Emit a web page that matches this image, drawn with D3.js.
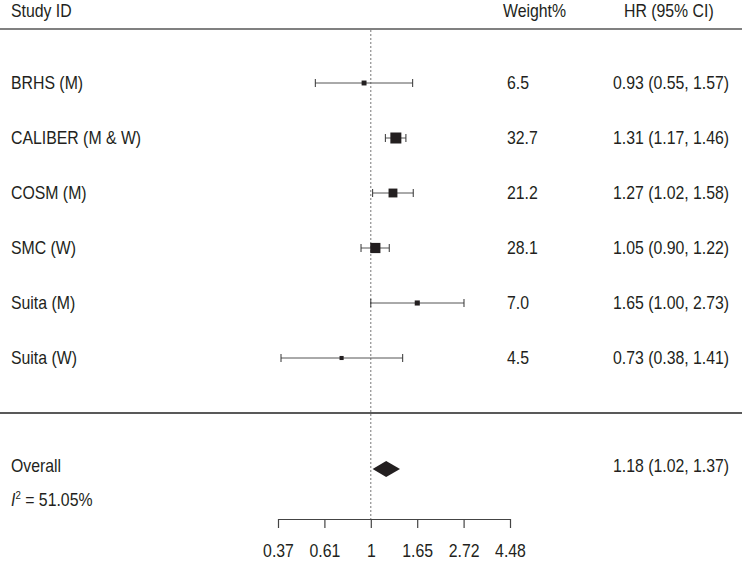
<!DOCTYPE html>
<html>
<head>
<meta charset="utf-8">
<script src="https://cdn.jsdelivr.net/npm/d3@7"></script>
<style>
  html, body { margin: 0; padding: 0; background: #fff; }
  text { font-family: "Liberation Sans", Arial, sans-serif; fill: #231f20; }
</style>
</head>
<body>
<svg id="chart" width="742" height="563"></svg>
<script>
// ---- data ----
const studies = ["BRHS (M)", "CALIBER (M & W)", "COSM (M)", "SMC (W)", "Suita (M)", "Suita (W)"];
const hr      = [0.93, 1.31, 1.27, 1.05, 1.65, 0.73];
const lower   = [0.55, 1.17, 1.02, 0.90, 1.00, 0.38];
const upper   = [1.57, 1.46, 1.58, 1.22, 2.73, 1.41];
const weights = [6.5, 32.7, 21.2, 28.1, 7.0, 4.5];
const overall = {hr: 1.18, lower: 1.02, upper: 1.37};
const i2Value = "51.05%";
const tickValues = [Math.exp(-1), Math.exp(-0.5), 1, Math.exp(0.5), Math.exp(1), Math.exp(1.5)];
const tickLabels = ["0.37", "0.61", "1", "1.65", "2.72", "4.48"];
const headers = ["Study ID", "Weight%", "HR (95% CI)"];

// ---- layout ----
const svg = d3.select("#chart");
const x = d3.scaleLog().domain([Math.exp(-1), Math.exp(1.5)]).range([278, 510]);
const y = d3.scaleLinear().domain([0, 5]).range([83, 358]);
const size = d3.scaleSqrt().domain([0, 32.7]).range([0, 11]);
const overallY = 469, axisY = 519;
const FS = 18, SX = 0.88;
const ink = "#231f20";

function label(txt, tx, ty, anchor) {
  return svg.append("text")
    .attr("transform", `translate(${tx},${ty + 6}) scale(${SX},1)`)
    .attr("font-size", FS)
    .attr("text-anchor", anchor || "start")
    .text(txt);
}

// header
label(headers[0], 11, 11);
label(headers[1], 503, 11);
label(headers[2], 624, 11);
svg.append("line").attr("x1", 0).attr("x2", 742).attr("y1", 29).attr("y2", 29)
  .attr("stroke", "#808080").attr("stroke-width", 2);

// reference dotted line
svg.append("line").attr("x1", x(1)).attr("x2", x(1)).attr("y1", 30).attr("y2", axisY)
  .attr("stroke", "#777").attr("stroke-width", 1).attr("stroke-dasharray", "2,2");

// separator
svg.append("line").attr("x1", 0).attr("x2", 742).attr("y1", 413).attr("y2", 413)
  .attr("stroke", "#222").attr("stroke-width", 1.3);

// study rows
studies.forEach((s, i) => {
  const yy = y(i);
  label(s, 11, yy);
  label(weights[i].toFixed(1), 507, yy);
  label(`${hr[i].toFixed(2)} (${lower[i].toFixed(2)}, ${upper[i].toFixed(2)})`, 613, yy);
  const g = svg.append("g");
  g.append("line").attr("x1", x(lower[i])).attr("x2", x(upper[i])).attr("y1", yy).attr("y2", yy)
    .attr("stroke", "#555").attr("stroke-width", 1);
  [lower[i], upper[i]].forEach(v => {
    g.append("line").attr("x1", x(v)).attr("x2", x(v)).attr("y1", yy - 4).attr("y2", yy + 4)
      .attr("stroke", "#333").attr("stroke-width", 1);
  });
  const sz = size(weights[i]);
  g.append("rect").attr("x", x(hr[i]) - sz / 2).attr("y", yy - sz / 2)
    .attr("width", sz).attr("height", sz).attr("fill", ink);
});

// overall
label("Overall", 11, 466);
label(`${overall.hr.toFixed(2)} (${overall.lower.toFixed(2)}, ${overall.upper.toFixed(2)})`, 613, 466);
svg.append("path")
  .attr("d", `M${x(overall.lower)},${overallY} L${x(overall.hr)},${overallY - 8} L${x(overall.upper)},${overallY} L${x(overall.hr)},${overallY + 8} Z`)
  .attr("fill", ink);

// I^2
const i2 = svg.append("text")
  .attr("transform", `translate(11,${500 + 6}) scale(${SX},1)`)
  .attr("font-size", FS);
i2.append("tspan").attr("font-style", "italic").text("I");
i2.append("tspan").attr("font-size", 11).attr("dy", -7).text("2");
i2.append("tspan").attr("dy", 7).text(" = " + i2Value);

// axis
const axis = d3.axisBottom(x).tickValues(tickValues).tickFormat((d, i) => tickLabels[i])
  .tickSize(9).tickSizeOuter(0);
const ag = svg.append("g").attr("transform", `translate(0,${axisY})`).call(axis);
ag.select(".domain").attr("stroke", "#444").attr("stroke-width", 1.2);
ag.selectAll(".tick line").attr("stroke", "#444").attr("stroke-width", 1.2);
ag.selectAll(".tick text")
  .attr("font-family", "Liberation Sans, Arial, sans-serif")
  .attr("font-size", FS).attr("fill", ink)
  .attr("y", 0).attr("dy", 0)
  .attr("transform", `translate(0,38) scale(${SX},1)`);
</script>
</body>
</html>
